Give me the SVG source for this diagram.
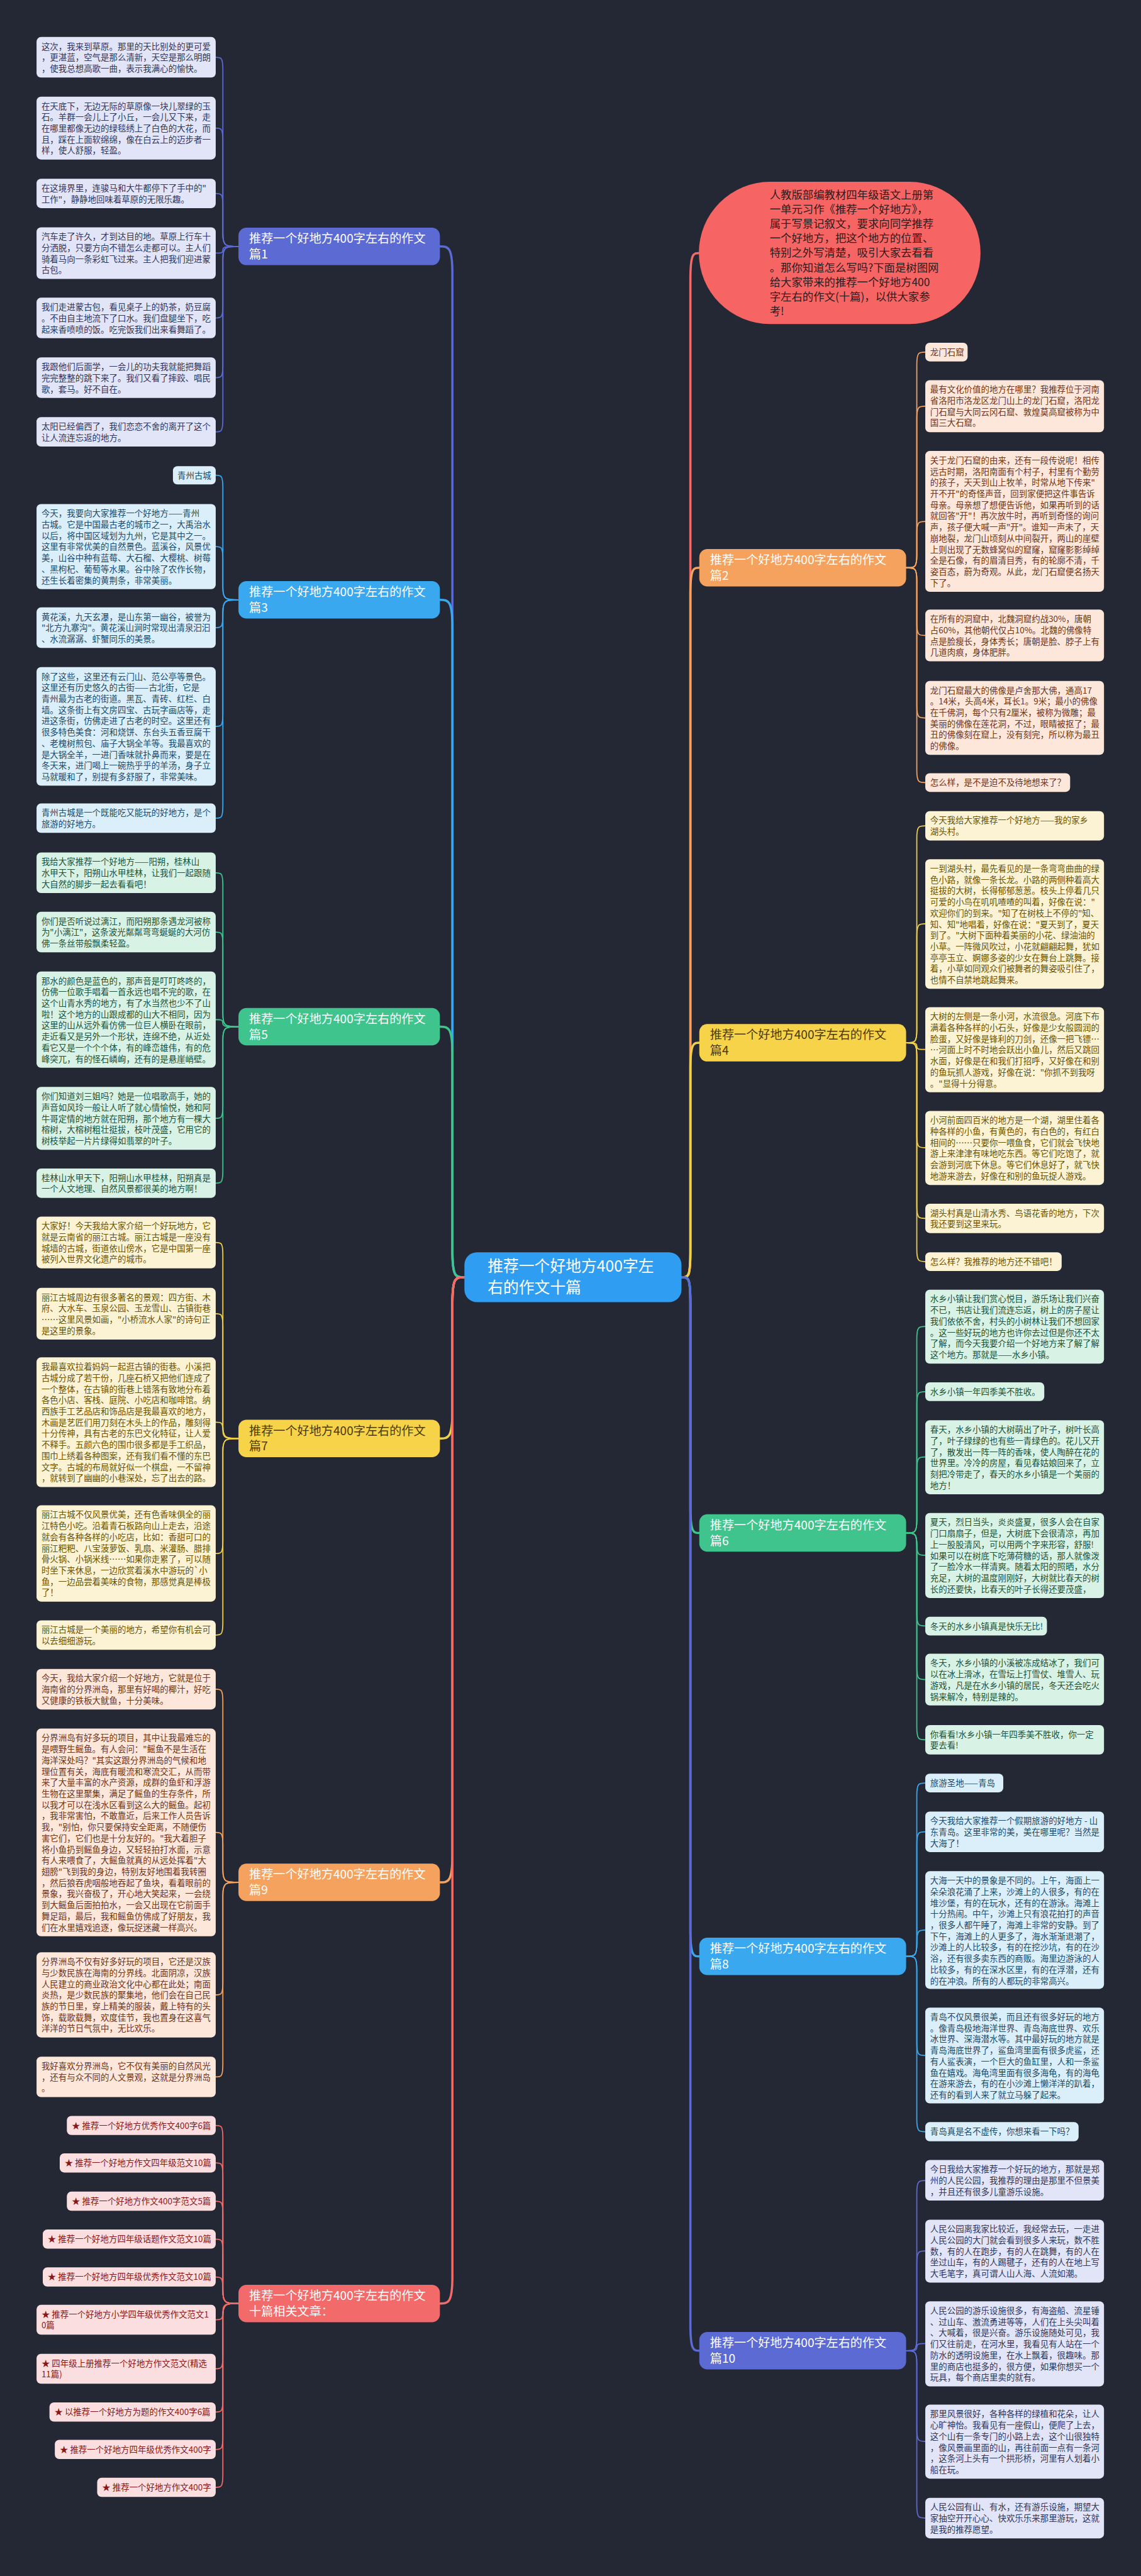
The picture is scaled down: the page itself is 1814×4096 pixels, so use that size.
<svg xmlns="http://www.w3.org/2000/svg" width="1814" height="4096" viewBox="0 0 1814 4096">
<style>
.lf text{font-family:"Noto Sans CJK SC","Noto Sans",sans-serif;font-size:19px}
.nd text{font-family:"Noto Sans CJK SC","Noto Sans",sans-serif;font-size:27px}
.ci rect{fill:#e2e5f7}.ci text{fill:#30365c}
.cs rect{fill:#dbeffb}.cs text{fill:#1c4a68}
.cg rect{fill:#d8f2e5}.cg text{fill:#1d5239}
.cy rect{fill:#fbf3d4}.cy text{fill:#6a5304}
.co rect{fill:#fce7da}.co text{fill:#6e3520}
.cr rect{fill:#fbdfe0}.cr text{fill:#8a1717}
.k{fill:none;stroke-width:2.5;stroke-linecap:round}
.m{fill:none;stroke-width:5;stroke-linecap:round}
.ki{stroke:#5c6bd4}.ks{stroke:#3aa8ef}.kg{stroke:#3ec48c}.ky{stroke:#f2cf48}.ko{stroke:#f5a25e}.kr{stroke:#f26a6a}
</style>
<rect x="0" y="0" width="1814" height="4096" fill="#242835"/>
<g transform="scale(0.70859)">

<g id="connectors">
<path class="m kr" d="M1529,2866 C1545,2866 1549,2866 1549,2806 L1549,628 C1549,568 1556,568 1568,568"/>
<path class="m ki" d="M1042,2866 C1022,2866 1015,2866 1015,2806 L1015,613 C1015,553 1005,553 987,553"/>
<path class="m ks" d="M1042,2866 C1022,2866 1015,2866 1015,2806 L1015,1406 C1015,1346 1005,1346 987,1346"/>
<path class="m kg" d="M1042,2866 C1022,2866 1015,2866 1015,2806 L1015,2364 C1015,2304 1005,2304 987,2304"/>
<path class="m ky" d="M1042,2866 C1022,2866 1015,2866 1015,2926 L1015,3168 C1015,3228 1005,3228 987,3228"/>
<path class="m ko" d="M1042,2866 C1022,2866 1015,2866 1015,2926 L1015,4164 C1015,4224 1005,4224 987,4224"/>
<path class="m kr" d="M1042,2866 C1022,2866 1015,2866 1015,2926 L1015,5109 C1015,5169 1005,5169 987,5169"/>
<path class="m ko" d="M1529,2866 C1545,2866 1549,2866 1549,2806 L1549,1334 C1549,1274 1556,1274 1569,1274"/>
<path class="m ky" d="M1529,2866 C1545,2866 1549,2866 1549,2806 L1549,2400 C1549,2340 1556,2340 1569,2340"/>
<path class="m kg" d="M1529,2866 C1545,2866 1549,2866 1549,2926 L1549,3380 C1549,3440 1556,3440 1569,3440"/>
<path class="m ks" d="M1529,2866 C1545,2866 1549,2866 1549,2926 L1549,4330 C1549,4390 1556,4390 1569,4390"/>
<path class="m ki" d="M1529,2866 C1545,2866 1549,2866 1549,2926 L1549,5215 C1549,5275 1556,5275 1569,5275"/>

<path class="k ki" d="M535,553 C507,553 500,553 500,525 L500,156.5 C500,128.5 496,128.5 484,128.5"/>
<path class="k ki" d="M535,553 C507,553 500,553 500,525 L500,315.5 C500,287.5 496,287.5 484,287.5"/>
<path class="k ki" d="M535,553 C507,553 500,553 500,525 L500,462 C500,434 496,434 484,434"/>
<path class="k ki" d="M535,553 C507,553 500,553 500,560.5 C500,568 496,568 484,568"/>
<path class="k ki" d="M535,553 C507,553 500,553 500,581 L500,685.5 C500,713.5 496,713.5 484,713.5"/>
<path class="k ki" d="M535,553 C507,553 500,553 500,581 L500,819.5 C500,847.5 496,847.5 484,847.5"/>
<path class="k ki" d="M535,553 C507,553 500,553 500,581 L500,941 C500,969 496,969 484,969"/>

<path class="k ks" d="M535,1346 C507,1346 500,1346 500,1318 L500,1094.5 C500,1066.5 496,1066.5 484,1066.5"/>
<path class="k ks" d="M535,1346 C507,1346 500,1346 500,1318 L500,1254.5 C500,1226.5 496,1226.5 484,1226.5"/>
<path class="k ks" d="M535,1346 C507,1346 500,1346 500,1374 L500,1380.5 C500,1408.5 496,1408.5 484,1408.5"/>
<path class="k ks" d="M535,1346 C507,1346 500,1346 500,1374 L500,1602 C500,1630 496,1630 484,1630"/>
<path class="k ks" d="M535,1346 C507,1346 500,1346 500,1374 L500,1808 C500,1836 496,1836 484,1836"/>

<path class="k kg" d="M535,2304 C507,2304 500,2304 500,2276 L500,1986.5 C500,1958.5 496,1958.5 484,1958.5"/>
<path class="k kg" d="M535,2304 C507,2304 500,2304 500,2276 L500,2119.5 C500,2091.5 496,2091.5 484,2091.5"/>
<path class="k kg" d="M535,2304 C507,2304 500,2304 500,2296 C500,2288 496,2288 484,2288"/>
<path class="k kg" d="M535,2304 C507,2304 500,2304 500,2332 L500,2481.5 C500,2509.5 496,2509.5 484,2509.5"/>
<path class="k kg" d="M535,2304 C507,2304 500,2304 500,2332 L500,2627 C500,2655 496,2655 484,2655"/>

<path class="k ky" d="M535,3228 C507,3228 500,3228 500,3200 L500,2816 C500,2788 496,2788 484,2788"/>
<path class="k ky" d="M535,3228 C507,3228 500,3228 500,3200 L500,2976 C500,2948 496,2948 484,2948"/>
<path class="k ky" d="M535,3228 C507,3228 500,3228 500,3210 C500,3191.5 496,3191.5 484,3191.5"/>
<path class="k ky" d="M535,3228 C507,3228 500,3228 500,3256 L500,3458 C500,3486 496,3486 484,3486"/>
<path class="k ky" d="M535,3228 C507,3228 500,3228 500,3256 L500,3641 C500,3669 496,3669 484,3669"/>

<path class="k ko" d="M535,4224 C507,4224 500,4224 500,4196 L500,3818.5 C500,3790.5 496,3790.5 484,3790.5"/>
<path class="k ko" d="M535,4224 C507,4224 500,4224 500,4196 L500,4140 C500,4112 496,4112 484,4112"/>
<path class="k ko" d="M535,4224 C507,4224 500,4224 500,4252 L500,4448.5 C500,4476.5 496,4476.5 484,4476.5"/>
<path class="k ko" d="M535,4224 C507,4224 500,4224 500,4252 L500,4632.5 C500,4660.5 496,4660.5 484,4660.5"/>

<path class="k kr" d="M535,5169 C507,5169 500,5169 500,5141 L500,4797.5 C500,4769.5 496,4769.5 484,4769.5"/>
<path class="k kr" d="M535,5169 C507,5169 500,5169 500,5141 L500,4881.5 C500,4853.5 496,4853.5 484,4853.5"/>
<path class="k kr" d="M535,5169 C507,5169 500,5169 500,5141 L500,4967.5 C500,4939.5 496,4939.5 484,4939.5"/>
<path class="k kr" d="M535,5169 C507,5169 500,5169 500,5141 L500,5052.5 C500,5024.5 496,5024.5 484,5024.5"/>
<path class="k kr" d="M535,5169 C507,5169 500,5169 500,5141 L500,5137.5 C500,5109.5 496,5109.5 484,5109.5"/>
<path class="k kr" d="M535,5169 C507,5169 500,5169 500,5187 C500,5205.5 496,5205.5 484,5205.5"/>
<path class="k kr" d="M535,5169 C507,5169 500,5169 500,5197 L500,5287.5 C500,5315.5 496,5315.5 484,5315.5"/>
<path class="k kr" d="M535,5169 C507,5169 500,5169 500,5197 L500,5384.5 C500,5412.5 496,5412.5 484,5412.5"/>
<path class="k kr" d="M535,5169 C507,5169 500,5169 500,5197 L500,5468.5 C500,5496.5 496,5496.5 484,5496.5"/>
<path class="k kr" d="M535,5169 C507,5169 500,5169 500,5197 L500,5553.5 C500,5581.5 496,5581.5 484,5581.5"/>

<path class="k ko" d="M2033,1274 C2052,1274 2057,1274 2057,1246 L2057,818 C2057,790 2062,790 2076,790"/>
<path class="k ko" d="M2033,1274 C2052,1274 2057,1274 2057,1246 L2057,939.5 C2057,911.5 2062,911.5 2076,911.5"/>
<path class="k ko" d="M2033,1274 C2052,1274 2057,1274 2057,1246 L2057,1198 C2057,1170 2062,1170 2076,1170"/>
<path class="k ko" d="M2033,1274 C2052,1274 2057,1274 2057,1302 L2057,1398 C2057,1426 2062,1426 2076,1426"/>
<path class="k ko" d="M2033,1274 C2052,1274 2057,1274 2057,1302 L2057,1583 C2057,1611 2062,1611 2076,1611"/>
<path class="k ko" d="M2033,1274 C2052,1274 2057,1274 2057,1302 L2057,1728 C2057,1756 2062,1756 2076,1756"/>

<path class="k ky" d="M2033,2340 C2052,2340 2057,2340 2057,2312 L2057,1881 C2057,1853 2062,1853 2076,1853"/>
<path class="k ky" d="M2033,2340 C2052,2340 2057,2340 2057,2312 L2057,2101 C2057,2073 2062,2073 2076,2073"/>
<path class="k ky" d="M2033,2340 C2052,2340 2057,2340 2057,2347.5 C2057,2355 2062,2355 2076,2355"/>
<path class="k ky" d="M2033,2340 C2052,2340 2057,2340 2057,2368 L2057,2547.5 C2057,2575.5 2062,2575.5 2076,2575.5"/>
<path class="k ky" d="M2033,2340 C2052,2340 2057,2340 2057,2368 L2057,2706 C2057,2734 2062,2734 2076,2734"/>
<path class="k ky" d="M2033,2340 C2052,2340 2057,2340 2057,2368 L2057,2803 C2057,2831 2062,2831 2076,2831"/>

<path class="k kg" d="M2033,3440 C2052,3440 2057,3440 2057,3412 L2057,3004.5 C2057,2976.5 2062,2976.5 2076,2976.5"/>
<path class="k kg" d="M2033,3440 C2052,3440 2057,3440 2057,3412 L2057,3151 C2057,3123 2062,3123 2076,3123"/>
<path class="k kg" d="M2033,3440 C2052,3440 2057,3440 2057,3412 L2057,3297.5 C2057,3269.5 2062,3269.5 2076,3269.5"/>
<path class="k kg" d="M2033,3440 C2052,3440 2057,3440 2057,3465 C2057,3490 2062,3490 2076,3490"/>
<path class="k kg" d="M2033,3440 C2052,3440 2057,3440 2057,3468 L2057,3620.5 C2057,3648.5 2062,3648.5 2076,3648.5"/>
<path class="k kg" d="M2033,3440 C2052,3440 2057,3440 2057,3468 L2057,3741 C2057,3769 2062,3769 2076,3769"/>
<path class="k kg" d="M2033,3440 C2052,3440 2057,3440 2057,3468 L2057,3876 C2057,3904 2062,3904 2076,3904"/>

<path class="k ks" d="M2033,4390 C2052,4390 2057,4390 2057,4362 L2057,4029 C2057,4001 2062,4001 2076,4001"/>
<path class="k ks" d="M2033,4390 C2052,4390 2057,4390 2057,4362 L2057,4138.5 C2057,4110.5 2062,4110.5 2076,4110.5"/>
<path class="k ks" d="M2033,4390 C2052,4390 2057,4390 2057,4362 L2057,4359 C2057,4331 2062,4331 2076,4331"/>
<path class="k ks" d="M2033,4390 C2052,4390 2057,4390 2057,4418 L2057,4584.5 C2057,4612.5 2062,4612.5 2076,4612.5"/>
<path class="k ks" d="M2033,4390 C2052,4390 2057,4390 2057,4418 L2057,4755.5 C2057,4783.5 2062,4783.5 2076,4783.5"/>

<path class="k ki" d="M2033,5275 C2052,5275 2057,5275 2057,5247 L2057,4921 C2057,4893 2062,4893 2076,4893"/>
<path class="k ki" d="M2033,5275 C2052,5275 2057,5275 2057,5247 L2057,5079 C2057,5051 2062,5051 2076,5051"/>
<path class="k ki" d="M2033,5275 C2052,5275 2057,5275 2057,5267 C2057,5259 2062,5259 2076,5259"/>
<path class="k ki" d="M2033,5275 C2052,5275 2057,5275 2057,5303 L2057,5450.5 C2057,5478.5 2062,5478.5 2076,5478.5"/>
<path class="k ki" d="M2033,5275 C2052,5275 2057,5275 2057,5303 L2057,5622.5 C2057,5650.5 2062,5650.5 2076,5650.5"/>
</g>

<g id="center">
<rect x="1042" y="2810" width="487" height="112" rx="28" fill="#2f9df2"/>
<text x="1094" y="2853" font-family="'Noto Sans CJK SC',sans-serif" font-size="35" fill="#ffffff"><tspan x="1094">推荐一个好地方400字左</tspan><tspan x="1094" dy="48">右的作文十篇</tspan></text>
</g>

<g id="intro">
<rect x="1568" y="408" width="632" height="319" rx="159.5" fill="#f76464"/>
<text font-family="'Noto Sans CJK SC',sans-serif" font-size="24.5" fill="#2e1c1c"><tspan x="1727" y="446">人教版部编教材四年级语文上册第</tspan><tspan x="1727" dy="32.6">一单元习作《推荐一个好地方》，</tspan><tspan x="1727" dy="32.6">属于写景记叙文，要求向同学推荐</tspan><tspan x="1727" dy="32.6">一个好地方，把这个地方的位置、</tspan><tspan x="1727" dy="32.6">特别之外写清楚，吸引大家去看看</tspan><tspan x="1727" dy="32.6">。那你知道怎么写吗?下面是树图网</tspan><tspan x="1727" dy="32.6">给大家带来的推荐一个好地方400</tspan><tspan x="1727" dy="32.6">字左右的作文(十篇)，以供大家参</tspan><tspan x="1727" dy="32.6">考!</tspan></text>
</g>

<g class="nd">
<g id="node-1"><rect x="535" y="511" width="452" height="84" rx="18" fill="#5c6bd4"/><text x="559" y="545" fill="#fff"><tspan x="559">推荐一个好地方400字左右的作文</tspan><tspan x="559" dy="35">篇1</tspan></text></g>
<g id="node-3"><rect x="535" y="1304" width="452" height="84" rx="18" fill="#3aa8ef"/><text x="559" y="1338" fill="#fff"><tspan x="559">推荐一个好地方400字左右的作文</tspan><tspan x="559" dy="35">篇3</tspan></text></g>
<g id="node-5"><rect x="535" y="2262" width="452" height="84" rx="18" fill="#3ec48c"/><text x="559" y="2296" fill="#fff"><tspan x="559">推荐一个好地方400字左右的作文</tspan><tspan x="559" dy="35">篇5</tspan></text></g>
<g id="node-7"><rect x="535" y="3186" width="452" height="84" rx="18" fill="#f7d34a"/><text x="559" y="3220" fill="#4a3a05"><tspan x="559">推荐一个好地方400字左右的作文</tspan><tspan x="559" dy="35">篇7</tspan></text></g>
<g id="node-9"><rect x="535" y="4182" width="452" height="84" rx="18" fill="#f5a25e"/><text x="559" y="4216" fill="#fff"><tspan x="559">推荐一个好地方400字左右的作文</tspan><tspan x="559" dy="35">篇9</tspan></text></g>
<g id="node-11"><rect x="535" y="5127" width="452" height="84" rx="18" fill="#f26a6a"/><text x="559" y="5161" fill="#fff"><tspan x="559">推荐一个好地方400字左右的作文</tspan><tspan x="559" dy="35">十篇相关文章：</tspan></text></g>
<g id="node-2"><rect x="1569" y="1232" width="464" height="84" rx="18" fill="#f5a25e"/><text x="1593" y="1266" fill="#fff"><tspan x="1593">推荐一个好地方400字左右的作文</tspan><tspan x="1593" dy="35">篇2</tspan></text></g>
<g id="node-4"><rect x="1569" y="2298" width="464" height="84" rx="18" fill="#f7d34a"/><text x="1593" y="2332" fill="#4a3a05"><tspan x="1593">推荐一个好地方400字左右的作文</tspan><tspan x="1593" dy="35">篇4</tspan></text></g>
<g id="node-6"><rect x="1569" y="3398" width="464" height="84" rx="18" fill="#3ec48c"/><text x="1593" y="3432" fill="#fff"><tspan x="1593">推荐一个好地方400字左右的作文</tspan><tspan x="1593" dy="35">篇6</tspan></text></g>
<g id="node-8"><rect x="1569" y="4348" width="464" height="84" rx="18" fill="#3aa8ef"/><text x="1593" y="4382" fill="#fff"><tspan x="1593">推荐一个好地方400字左右的作文</tspan><tspan x="1593" dy="35">篇8</tspan></text></g>
<g id="node-10"><rect x="1569" y="5233" width="464" height="84" rx="18" fill="#5c6bd4"/><text x="1593" y="5267" fill="#fff"><tspan x="1593">推荐一个好地方400字左右的作文</tspan><tspan x="1593" dy="35">篇10</tspan></text></g>
</g>

<g class="lf ci">
<g id="leaf-1-1"><rect x="82" y="83" width="402" height="91" rx="10"/><text y="111"><tspan x="93">这次，我来到草原。那里的天比别处的更可爱</tspan><tspan x="93" dy="25">，更湛蓝，空气是那么清新，天空是那么明朗</tspan><tspan x="93" dy="25">，使我总想高歌一曲，表示我满心的愉快。</tspan></text></g>
<g id="leaf-1-2"><rect x="82" y="217" width="402" height="141" rx="10"/><text y="245"><tspan x="93">在天底下，无边无际的草原像一块儿翠绿的玉</tspan><tspan x="93" dy="25">石。羊群一会儿上了小丘，一会儿又下来，走</tspan><tspan x="93" dy="25">在哪里都像无边的绿毯绣上了白色的大花，而</tspan><tspan x="93" dy="25">且，踩在上面软绵绵，像在白云上的迈步者一</tspan><tspan x="93" dy="25">样，使人舒服，轻盈。</tspan></text></g>
<g id="leaf-1-3"><rect x="82" y="401" width="402" height="66" rx="10"/><text y="429"><tspan x="93">在这境界里，连骏马和大牛都停下了手中的"</tspan><tspan x="93" dy="25">工作"，静静地回味着草原的无限乐趣。</tspan></text></g>
<g id="leaf-1-4"><rect x="82" y="510" width="402" height="116" rx="10"/><text y="538"><tspan x="93">汽车走了许久，才到达目的地。草原上行车十</tspan><tspan x="93" dy="25">分洒脱，只要方向不错怎么走都可以。主人们</tspan><tspan x="93" dy="25">骑着马向一条彩虹飞过来。主人把我们迎进蒙</tspan><tspan x="93" dy="25">古包。</tspan></text></g>
<g id="leaf-1-5"><rect x="82" y="668" width="402" height="91" rx="10"/><text y="696"><tspan x="93">我们走进蒙古包，看见桌子上的奶茶，奶豆腐</tspan><tspan x="93" dy="25">。不由自主地流下了口水。我们盘腿坐下，吃</tspan><tspan x="93" dy="25">起来香喷喷的饭。吃完饭我们出来看舞蹈了。</tspan></text></g>
<g id="leaf-1-6"><rect x="82" y="802" width="402" height="91" rx="10"/><text y="830"><tspan x="93">我跟他们后面学，一会儿的功夫我就能把舞蹈</tspan><tspan x="93" dy="25">完完整整的跳下来了。我们又看了摔跤、唱民</tspan><tspan x="93" dy="25">歌，套马。好不自在。</tspan></text></g>
<g id="leaf-1-7"><rect x="82" y="936" width="402" height="66" rx="10"/><text y="964"><tspan x="93">太阳已经偏西了，我们恋恋不舍的离开了这个</tspan><tspan x="93" dy="25">让人流连忘返的地方。</tspan></text></g>
</g>

<g class="lf cs">
<g id="leaf-3-1"><rect x="388" y="1046" width="96" height="41" rx="10"/><text y="1074"><tspan x="398">青州古城</tspan></text></g>
<g id="leaf-3-2"><rect x="82" y="1131" width="402" height="191" rx="10"/><text y="1159"><tspan x="93">今天，我要向大家推荐一个好地方——青州</tspan><tspan x="93" dy="25">古城。它是中国最古老的城市之一，大禹治水</tspan><tspan x="93" dy="25">以后，将中国区域划为九州，它是其中之一。</tspan><tspan x="93" dy="25">这里有非常优美的自然景色。蓝溪谷，风景优</tspan><tspan x="93" dy="25">美，山谷中种有蓝莓、大石榴、大樱桃、树莓</tspan><tspan x="93" dy="25">、黑枸杞、葡萄等水果。谷中除了农作长物，</tspan><tspan x="93" dy="25">还生长着密集的黄荆条，非常美丽。</tspan></text></g>
<g id="leaf-3-3"><rect x="82" y="1363" width="402" height="91" rx="10"/><text y="1391"><tspan x="93">黄花溪，九天玄瀑，是山东第一幽谷，被誉为</tspan><tspan x="93" dy="25">"北方九寨沟"。黄花溪山涧时常现出清泉汩汩</tspan><tspan x="93" dy="25">、水流潺潺、虾蟹同乐的美景。</tspan></text></g>
<g id="leaf-3-4"><rect x="82" y="1497" width="402" height="266" rx="10"/><text y="1525"><tspan x="93">除了这些，这里还有云门山、范公亭等景色。</tspan><tspan x="93" dy="25">这里还有历史悠久的古街——古北街，它是</tspan><tspan x="93" dy="25">青州最为古老的街道。黑瓦、青砖、红栏、白</tspan><tspan x="93" dy="25">墙。这条街上有文房四宝、古玩字画店等，走</tspan><tspan x="93" dy="25">进这条街，仿佛走进了古老的时空。这里还有</tspan><tspan x="93" dy="25">很多特色美食：河和烧饼、东台头五香豆腐干</tspan><tspan x="93" dy="25">、老槐树煎包、庙子大锅全羊等。我最喜欢的</tspan><tspan x="93" dy="25">是大锅全羊，一进门香味就扑鼻而来，要是在</tspan><tspan x="93" dy="25">冬天来，进门喝上一碗热乎乎的羊汤，身子立</tspan><tspan x="93" dy="25">马就暖和了，别提有多舒服了，非常美味。</tspan></text></g>
<g id="leaf-3-5"><rect x="82" y="1803" width="402" height="66" rx="10"/><text y="1831"><tspan x="93">青州古城是一个既能吃又能玩的好地方，是个</tspan><tspan x="93" dy="25">旅游的好地方。</tspan></text></g>
</g>

<g class="lf cg">
<g id="leaf-5-1"><rect x="82" y="1913" width="402" height="91" rx="10"/><text y="1941"><tspan x="93">我给大家推荐一个好地方——阳朔，桂林山</tspan><tspan x="93" dy="25">水甲天下，阳朔山水甲桂林，让我们一起跟随</tspan><tspan x="93" dy="25">大自然的脚步一起去看看吧！</tspan></text></g>
<g id="leaf-5-2"><rect x="82" y="2046" width="402" height="91" rx="10"/><text y="2074"><tspan x="93">你们是否听说过漓江，而阳朔那条遇龙河被称</tspan><tspan x="93" dy="25">为"小漓江"，这条波光粼粼弯弯蜒蜒的大河仿</tspan><tspan x="93" dy="25">佛一条丝带般飘柔轻盈。</tspan></text></g>
<g id="leaf-5-3"><rect x="82" y="2180" width="402" height="216" rx="10"/><text y="2208"><tspan x="93">那水的颜色是蓝色的，那声音是叮叮咚咚的，</tspan><tspan x="93" dy="25">仿佛一位歌手唱着一首永远也唱不完的歌，在</tspan><tspan x="93" dy="25">这个山青水秀的地方，有了水当然也少不了山</tspan><tspan x="93" dy="25">啦！这个地方的山跟成都的山大不相同，因为</tspan><tspan x="93" dy="25">这里的山从远外看仿佛一位巨人横卧在眼前，</tspan><tspan x="93" dy="25">走近看又是另外一个形状，连绵不绝，从近处</tspan><tspan x="93" dy="25">看它又是一个个个体，有的峰峦雄伟，有的危</tspan><tspan x="93" dy="25">峰突兀，有的怪石嶙峋，还有的是悬崖峭壁。</tspan></text></g>
<g id="leaf-5-4"><rect x="82" y="2439" width="402" height="141" rx="10"/><text y="2467"><tspan x="93">你们知道刘三姐吗？她是一位唱歌高手，她的</tspan><tspan x="93" dy="25">声音如风玲一般让人听了就心情愉悦，她和阿</tspan><tspan x="93" dy="25">牛哥定情的地方就在阳朔，那个地方有一棵大</tspan><tspan x="93" dy="25">榕树，大榕树粗壮挺拔，枝叶茂盛，它用它的</tspan><tspan x="93" dy="25">树枝举起一片片绿得如翡翠的叶子。</tspan></text></g>
<g id="leaf-5-5"><rect x="82" y="2622" width="402" height="66" rx="10"/><text y="2650"><tspan x="93">桂林山水甲天下，阳朔山水甲桂林，阳朔真是</tspan><tspan x="93" dy="25">一个人文地理、自然风景都很美的地方啊！</tspan></text></g>
</g>

<g class="lf cy">
<g id="leaf-7-1"><rect x="82" y="2730" width="402" height="116" rx="10"/><text y="2758"><tspan x="93">大家好！今天我给大家介绍一个好玩地方，它</tspan><tspan x="93" dy="25">就是云南省的丽江古城。丽江古城是一座没有</tspan><tspan x="93" dy="25">城墙的古城，街道依山傍水，它是中国第一座</tspan><tspan x="93" dy="25">被列入世界文化遗产的城市。</tspan></text></g>
<g id="leaf-7-2"><rect x="82" y="2890" width="402" height="116" rx="10"/><text y="2918"><tspan x="93">丽江古城周边有很多著名的景观：四方街、木</tspan><tspan x="93" dy="25">府、大水车、玉泉公园、玉龙雪山、古镇街巷</tspan><tspan x="93" dy="25">……这里风景如画，"小桥流水人家"的诗句正</tspan><tspan x="93" dy="25">是这里的景象。</tspan></text></g>
<g id="leaf-7-3"><rect x="82" y="3046" width="402" height="291" rx="10"/><text y="3074"><tspan x="93">我最喜欢拉着妈妈一起逛古镇的街巷。小溪把</tspan><tspan x="93" dy="25">古城分成了若干份，几座石桥又把他们连成了</tspan><tspan x="93" dy="25">一个整体，在古镇的街巷上错落有致地分布着</tspan><tspan x="93" dy="25">各色小店、客栈、庭院、小吃店和咖啡馆。纳</tspan><tspan x="93" dy="25">西族手工艺品店和饰品店是我最喜欢的地方，</tspan><tspan x="93" dy="25">木画是艺匠们用刀刻在木头上的作品，雕刻得</tspan><tspan x="93" dy="25">十分传神，具有古老的东巴文化特征，让人爱</tspan><tspan x="93" dy="25">不释手。五颜六色的围巾很多都是手工织品，</tspan><tspan x="93" dy="25">围巾上绣着各种图案，还有我们看不懂的东巴</tspan><tspan x="93" dy="25">文字。古城的布局就好似一个棋盘，一不留神</tspan><tspan x="93" dy="25">，就转到了幽幽的小巷深处，忘了出去的路。</tspan></text></g>
<g id="leaf-7-4"><rect x="82" y="3378" width="402" height="216" rx="10"/><text y="3406"><tspan x="93">丽江古城不仅风景优美，还有色香味俱全的丽</tspan><tspan x="93" dy="25">江特色小吃。沿着青石板路向山上走去，沿途</tspan><tspan x="93" dy="25">就会有各种各样的小吃店，比如：香甜可口的</tspan><tspan x="93" dy="25">丽江粑粑、八宝菠萝饭、乳扇、米灌肠、腊排</tspan><tspan x="93" dy="25">骨火锅、小锅米线……如果你走累了，可以随</tspan><tspan x="93" dy="25">时坐下来休息，一边欣赏着溪水中游玩的`小</tspan><tspan x="93" dy="25">鱼，一边品尝着美味的食物，那感觉真是棒极</tspan><tspan x="93" dy="25">了！</tspan></text></g>
<g id="leaf-7-5"><rect x="82" y="3636" width="402" height="66" rx="10"/><text y="3664"><tspan x="93">丽江古城是一个美丽的地方，希望你有机会可</tspan><tspan x="93" dy="25">以去细细游玩。</tspan></text></g>
</g>

<g class="lf co">
<g id="leaf-9-1"><rect x="82" y="3745" width="402" height="91" rx="10"/><text y="3773"><tspan x="93">今天，我给大家介绍一个好地方，它就是位于</tspan><tspan x="93" dy="25">海南省的分界洲岛，那里有好喝的椰汁，好吃</tspan><tspan x="93" dy="25">又健康的铁板大鱿鱼，十分美味。</tspan></text></g>
<g id="leaf-9-2"><rect x="82" y="3879" width="402" height="466" rx="10"/><text y="3907"><tspan x="93">分界洲岛有好多玩的项目，其中让我最难忘的</tspan><tspan x="93" dy="25">是喂野生鳐鱼。有人会问："鳐鱼不是生活在</tspan><tspan x="93" dy="25">海洋深处吗？"其实这跟分界洲岛的气候和地</tspan><tspan x="93" dy="25">理位置有关，海底有暖流和寒流交汇，从而带</tspan><tspan x="93" dy="25">来了大量丰富的水产资源，成群的鱼虾和浮游</tspan><tspan x="93" dy="25">生物在这里聚集，满足了鳐鱼的生存条件，所</tspan><tspan x="93" dy="25">以我才可以在浅水区看到这么大的鳐鱼。起初</tspan><tspan x="93" dy="25">，我非常害怕，不敢靠近，后来工作人员告诉</tspan><tspan x="93" dy="25">我，"别怕，你只要保持安全距离，不随便伤</tspan><tspan x="93" dy="25">害它们，它们也是十分友好的。"我大着胆子</tspan><tspan x="93" dy="25">将小鱼扔到鳐鱼身边，又轻轻拍打水面，示意</tspan><tspan x="93" dy="25">有人来喂食了，大鳐鱼就真的从远处挥着"大</tspan><tspan x="93" dy="25">翅膀"飞到我的身边，特别友好地围着我转圈</tspan><tspan x="93" dy="25">，然后狼吞虎咽般地吞起了鱼块，看着眼前的</tspan><tspan x="93" dy="25">景象，我兴奋极了，开心地大笑起来，一会绕</tspan><tspan x="93" dy="25">到大鳐鱼后面拍拍水，一会又出现在它前面手</tspan><tspan x="93" dy="25">舞足蹈，最后，我和鳐鱼仿佛成了好朋友，我</tspan><tspan x="93" dy="25">们在水里嬉戏追逐，像玩捉迷藏一样高兴。</tspan></text></g>
<g id="leaf-9-3"><rect x="82" y="4381" width="402" height="191" rx="10"/><text y="4409"><tspan x="93">分界洲岛不仅有好多好玩的项目，它还是汉族</tspan><tspan x="93" dy="25">与少数民族在海南的分界线。北面阴凉，汉族</tspan><tspan x="93" dy="25">人民建立的商业政治文化中心都在此处；南面</tspan><tspan x="93" dy="25">炎热，是少数民族的聚集地，他们会在自己民</tspan><tspan x="93" dy="25">族的节日里，穿上精美的服装，戴上特有的头</tspan><tspan x="93" dy="25">饰，载歌载舞，欢度佳节，我也置身在这喜气</tspan><tspan x="93" dy="25">洋洋的节日气氛中，无比欢乐。</tspan></text></g>
<g id="leaf-9-4"><rect x="82" y="4615" width="402" height="91" rx="10"/><text y="4643"><tspan x="93">我好喜欢分界洲岛，它不仅有美丽的自然风光</tspan><tspan x="93" dy="25">，还有与众不同的人文景观，这就是分界洲岛</tspan><tspan x="93" dy="25">。</tspan></text></g>
</g>

<g class="lf cr">
<g id="leaf-11-1"><rect x="150" y="4748" width="334" height="43" rx="10"/><text y="4776.5"><tspan x="161">★ 推荐一个好地方优秀作文400字6篇</tspan></text></g>
<g id="leaf-11-2"><rect x="134" y="4832" width="350" height="43" rx="10"/><text y="4860.5"><tspan x="145">★ 推荐一个好地方作文四年级范文10篇</tspan></text></g>
<g id="leaf-11-3"><rect x="150" y="4918" width="334" height="43" rx="10"/><text y="4946.5"><tspan x="161">★ 推荐一个好地方作文400字范文5篇</tspan></text></g>
<g id="leaf-11-4"><rect x="96" y="5003" width="388" height="43" rx="10"/><text y="5031.5"><tspan x="107">★ 推荐一个好地方四年级话题作文范文10篇</tspan></text></g>
<g id="leaf-11-5"><rect x="96" y="5088" width="388" height="43" rx="10"/><text y="5116.5"><tspan x="107">★ 推荐一个好地方四年级优秀作文范文10篇</tspan></text></g>
<g id="leaf-11-6"><rect x="82" y="5172" width="402" height="67" rx="10"/><text y="5200"><tspan x="93">★ 推荐一个好地方小学四年级优秀作文范文1</tspan><tspan x="93" dy="25">0篇</tspan></text></g>
<g id="leaf-11-7"><rect x="82" y="5282" width="402" height="67" rx="10"/><text y="5310"><tspan x="93">★ 四年级上册推荐一个好地方作文范文(精选</tspan><tspan x="93" dy="25">11篇)</tspan></text></g>
<g id="leaf-11-8"><rect x="111" y="5391" width="373" height="43" rx="10"/><text y="5419.5"><tspan x="122">★ 以推荐一个好地方为题的作文400字6篇</tspan></text></g>
<g id="leaf-11-9"><rect x="123" y="5475" width="361" height="43" rx="10"/><text y="5503.5"><tspan x="134">★ 推荐一个好地方四年级优秀作文400字</tspan></text></g>
<g id="leaf-11-10"><rect x="218" y="5560" width="266" height="43" rx="10"/><text y="5588.5"><tspan x="229">★ 推荐一个好地方作文400字</tspan></text></g>
</g>

<g class="lf co">
<g id="leaf-2-1"><rect x="2076" y="769" width="95" height="42" rx="10"/><text y="797"><tspan x="2087">龙门石窟</tspan></text></g>
<g id="leaf-2-2"><rect x="2076" y="853" width="401" height="117" rx="10"/><text y="881"><tspan x="2087">最有文化价值的地方在哪里？我推荐位于河南</tspan><tspan x="2087" dy="25">省洛阳市洛龙区龙门山上的龙门石窟，洛阳龙</tspan><tspan x="2087" dy="25">门石窟与大同云冈石窟、敦煌莫高窟被称为中</tspan><tspan x="2087" dy="25">国三大石窟。</tspan></text></g>
<g id="leaf-2-3"><rect x="2076" y="1012" width="401" height="316" rx="10"/><text y="1040"><tspan x="2087">关于龙门石窟的由来，还有一段传说呢！相传</tspan><tspan x="2087" dy="25">远古时期，洛阳南面有个村子，村里有个勤劳</tspan><tspan x="2087" dy="25">的孩子，天天到山上牧羊，时常从地下传来"</tspan><tspan x="2087" dy="25">开不开"的奇怪声音，回到家便把这件事告诉</tspan><tspan x="2087" dy="25">母亲。母亲想了想便告诉他，如果再听到的话</tspan><tspan x="2087" dy="25">就回答"开"！再次放牛时，再听到奇怪的询问</tspan><tspan x="2087" dy="25">声，孩子便大喊一声"开"。谁知一声未了，天</tspan><tspan x="2087" dy="25">崩地裂，龙门山顷刻从中间裂开，两山的崖壁</tspan><tspan x="2087" dy="25">上则出现了无数蜂窝似的窟窿，窟窿影影绰绰</tspan><tspan x="2087" dy="25">全是石像，有的眉清目秀，有的轮廓不清，千</tspan><tspan x="2087" dy="25">姿百态，蔚为奇观。从此，龙门石窟便名扬天</tspan><tspan x="2087" dy="25">下了。</tspan></text></g>
<g id="leaf-2-4"><rect x="2076" y="1368" width="401" height="116" rx="10"/><text y="1396"><tspan x="2087">在所有的洞窟中，北魏洞窟约战30%，唐朝</tspan><tspan x="2087" dy="25">占60%，其他朝代仅占10%。北魏的佛像特</tspan><tspan x="2087" dy="25">点是脸瘦长，身体秀长；唐朝是脸、脖子上有</tspan><tspan x="2087" dy="25">几道肉痕，身体肥胖。</tspan></text></g>
<g id="leaf-2-5"><rect x="2076" y="1528" width="401" height="166" rx="10"/><text y="1556"><tspan x="2087">龙门石窟最大的佛像是卢舍那大佛，通高17</tspan><tspan x="2087" dy="25">。14米，头高4米，耳长1。9米；最小的佛像</tspan><tspan x="2087" dy="25">在千佛洞，每个只有2厘米，被称为微雕；最</tspan><tspan x="2087" dy="25">美丽的佛像在莲花洞，不过，眼睛被抠了；最</tspan><tspan x="2087" dy="25">丑的佛像刻在窟上，没有刻完，所以称为最丑</tspan><tspan x="2087" dy="25">的佛像。</tspan></text></g>
<g id="leaf-2-6"><rect x="2076" y="1735" width="325" height="42" rx="10"/><text y="1763"><tspan x="2087">怎么样，是不是迫不及待地想来了？</tspan></text></g>
</g>

<g class="lf cy">
<g id="leaf-4-1"><rect x="2076" y="1820" width="401" height="66" rx="10"/><text y="1848"><tspan x="2087">今天我给大家推荐一个好地方——我的家乡</tspan><tspan x="2087" dy="25">湖头村。</tspan></text></g>
<g id="leaf-4-2"><rect x="2076" y="1928" width="401" height="291" rx="10"/><text y="1956"><tspan x="2087">一到湖头村，最先看见的是一条弯弯曲曲的绿</tspan><tspan x="2087" dy="25">色小路，就像一条长龙。小路的两侧种着高大</tspan><tspan x="2087" dy="25">挺拔的大树，长得郁郁葱葱。枝头上停着几只</tspan><tspan x="2087" dy="25">可爱的小鸟在叽叽喳喳的叫着，好像在说："</tspan><tspan x="2087" dy="25">欢迎你们的到来。"知了在树枝上不停的"知、</tspan><tspan x="2087" dy="25">知、知"地唱着，好像在说："夏天到了，夏天</tspan><tspan x="2087" dy="25">到了。"大树下面种着美丽的小花、绿油油的</tspan><tspan x="2087" dy="25">小草。一阵微风吹过，小花就翩翩起舞，犹如</tspan><tspan x="2087" dy="25">亭亭玉立、婀娜多姿的少女在舞台上跳舞。接</tspan><tspan x="2087" dy="25">着，小草如同观众们被舞者的舞姿吸引住了，</tspan><tspan x="2087" dy="25">也情不自禁地跳起舞来。</tspan></text></g>
<g id="leaf-4-3"><rect x="2076" y="2260" width="401" height="191" rx="10"/><text y="2288"><tspan x="2087">大树的左侧是一条小河，水流很急。河底下布</tspan><tspan x="2087" dy="25">满着各种各样的小石头，好像是少女般圆润的</tspan><tspan x="2087" dy="25">脸蛋，又好像是锋利的刀剑，还像一把飞镖…</tspan><tspan x="2087" dy="25">…河面上时不时地会跃出小鱼儿，然后又跳回</tspan><tspan x="2087" dy="25">水面，好像是在和我们打招呼，又好像在和别</tspan><tspan x="2087" dy="25">的鱼玩抓人游戏，好像在说："你抓不到我呀</tspan><tspan x="2087" dy="25">。"显得十分得意。</tspan></text></g>
<g id="leaf-4-4"><rect x="2076" y="2493" width="401" height="166" rx="10"/><text y="2521"><tspan x="2087">小河前面四百米的地方是一个湖，湖里住着各</tspan><tspan x="2087" dy="25">种各样的小鱼，有黄色的，有白色的，有红白</tspan><tspan x="2087" dy="25">相间的……只要你一喂鱼食，它们就会飞快地</tspan><tspan x="2087" dy="25">游上来津津有味地吃东西。等它们吃饱了，就</tspan><tspan x="2087" dy="25">会游到河底下休息。等它们休息好了，就飞快</tspan><tspan x="2087" dy="25">地游来游去，好像在和别的鱼玩捉人游戏。</tspan></text></g>
<g id="leaf-4-5"><rect x="2076" y="2701" width="401" height="66" rx="10"/><text y="2729"><tspan x="2087">湖头村真是山清水秀、鸟语花香的地方，下次</tspan><tspan x="2087" dy="25">我还要到这里来玩。</tspan></text></g>
<g id="leaf-4-6"><rect x="2076" y="2810" width="306" height="42" rx="10"/><text y="2838"><tspan x="2087">怎么样？我推荐的地方还不错吧！</tspan></text></g>
</g>

<g class="lf cg">
<g id="leaf-6-1"><rect x="2076" y="2894" width="401" height="166" rx="10"/><text y="2922"><tspan x="2087">水乡小镇让我们赏心悦目，游乐场让我们兴奋</tspan><tspan x="2087" dy="25">不已，书店让我们流连忘返，树上的房子屋让</tspan><tspan x="2087" dy="25">我们依依不舍，村头的小树林让我们不想回家</tspan><tspan x="2087" dy="25">。这一些好玩的地方也许你去过但是你还不太</tspan><tspan x="2087" dy="25">了解，而今天我要介绍一个好地方来了解了解</tspan><tspan x="2087" dy="25">这个地方。那就是——水乡小镇。</tspan></text></g>
<g id="leaf-6-2"><rect x="2076" y="3102" width="267" height="42" rx="10"/><text y="3130"><tspan x="2087">水乡小镇一年四季美不胜收。</tspan></text></g>
<g id="leaf-6-3"><rect x="2076" y="3187" width="401" height="166" rx="10"/><text y="3215"><tspan x="2087">春天，水乡小镇的大树萌出了叶子，树叶长高</tspan><tspan x="2087" dy="25">了，叶子绿绿的也有些一青绿色的。花儿又开</tspan><tspan x="2087" dy="25">了，散发出一阵一阵的香味，使人陶醉在花的</tspan><tspan x="2087" dy="25">世界里。冷冷的房屋，看见春姑娘回来了，立</tspan><tspan x="2087" dy="25">刻把冷带走了，春天的水乡小镇是一个美丽的</tspan><tspan x="2087" dy="25">地方！</tspan></text></g>
<g id="leaf-6-4"><rect x="2076" y="3395" width="401" height="191" rx="10"/><text y="3423"><tspan x="2087">夏天，烈日当头，炎炎盛夏，很多人会在自家</tspan><tspan x="2087" dy="25">门口扇扇子，但是，大树底下会很清凉，再加</tspan><tspan x="2087" dy="25">上一股股清风，可以用两个字来形容，舒服!</tspan><tspan x="2087" dy="25">如果可以在树底下吃薄荷糖的话，那人就像泼</tspan><tspan x="2087" dy="25">了一脸冷水一样清爽。随着太阳的照晒，水分</tspan><tspan x="2087" dy="25">充足，大树的温度刚刚好，大树就比春天的树</tspan><tspan x="2087" dy="25">长的还要快，比春天的叶子长得还要茂盛，</tspan></text></g>
<g id="leaf-6-5"><rect x="2076" y="3628" width="273" height="42" rx="10"/><text y="3656"><tspan x="2087">冬天的水乡小镇真是快乐无比!</tspan></text></g>
<g id="leaf-6-6"><rect x="2076" y="3711" width="401" height="116" rx="10"/><text y="3739"><tspan x="2087">冬天，水乡小镇的小溪被冻成结冰了，我们可</tspan><tspan x="2087" dy="25">以在冰上滑冰，在雪坛上打雪仗、堆雪人、玩</tspan><tspan x="2087" dy="25">游戏，凡是在水乡小镇的居民，冬天还会吃火</tspan><tspan x="2087" dy="25">锅来解冷，特别是辣的。</tspan></text></g>
<g id="leaf-6-7"><rect x="2076" y="3871" width="401" height="66" rx="10"/><text y="3899"><tspan x="2087">你看看!水乡小镇一年四季美不胜收，你一定</tspan><tspan x="2087" dy="25">要去看!</tspan></text></g>
</g>

<g class="lf cs">
<g id="leaf-8-1"><rect x="2076" y="3980" width="175" height="42" rx="10"/><text y="4008"><tspan x="2087">旅游圣地——青岛</tspan></text></g>
<g id="leaf-8-2"><rect x="2076" y="4065" width="401" height="91" rx="10"/><text y="4093"><tspan x="2087">今天我给大家推荐一个假期旅游的好地方 - 山</tspan><tspan x="2087" dy="25">东青岛。这里非常的美，美在哪里呢？当然是</tspan><tspan x="2087" dy="25">大海了！</tspan></text></g>
<g id="leaf-8-3"><rect x="2076" y="4199" width="401" height="264" rx="10"/><text y="4227"><tspan x="2087">大海一天中的景象是不同的。上午，海面上一</tspan><tspan x="2087" dy="25">朵朵浪花涌了上来，沙滩上的人很多，有的在</tspan><tspan x="2087" dy="25">堆沙堡，有的在玩水，还有的在游泳。海滩上</tspan><tspan x="2087" dy="25">十分热闹。中午，沙滩上只有浪花拍打的声音</tspan><tspan x="2087" dy="25">，很多人都午睡了，海滩上非常的安静。到了</tspan><tspan x="2087" dy="25">下午，海滩上的人更多了，海水渐渐退潮了，</tspan><tspan x="2087" dy="25">沙滩上的人比较多，有的在挖沙坑，有的在沙</tspan><tspan x="2087" dy="25">浴，还有很多卖东西的商贩。海里边游泳的人</tspan><tspan x="2087" dy="25">比较多，有的在深水区里，有的在浮潜，还有</tspan><tspan x="2087" dy="25">的在冲浪。所有的人都玩的非常高兴。</tspan></text></g>
<g id="leaf-8-4"><rect x="2076" y="4505" width="401" height="215" rx="10"/><text y="4533"><tspan x="2087">青岛不仅风景很美，而且还有很多好玩的地方</tspan><tspan x="2087" dy="25">。像青岛极地海洋世界、青岛海底世界、欢乐</tspan><tspan x="2087" dy="25">冰世界、深海潜水等。其中最好玩的地方就是</tspan><tspan x="2087" dy="25">青岛海底世界了，鲨鱼湾里面有很多虎鲨，还</tspan><tspan x="2087" dy="25">有人鲨表演，一个巨大的鱼缸里，人和一条鲨</tspan><tspan x="2087" dy="25">鱼在嬉戏。海龟湾里面有很多海龟，有的海龟</tspan><tspan x="2087" dy="25">在游来游去，有的在小沙滩上懒洋洋的趴着，</tspan><tspan x="2087" dy="25">还有的看到人来了就立马躲了起来。</tspan></text></g>
<g id="leaf-8-5"><rect x="2076" y="4762" width="344" height="43" rx="10"/><text y="4790"><tspan x="2087">青岛真是名不虚传，你想来看一下吗？</tspan></text></g>
</g>

<g class="lf ci">
<g id="leaf-10-1"><rect x="2076" y="4847" width="401" height="91" rx="10"/><text y="4875"><tspan x="2087">今日我给大家推荐一个好玩的地方，那就是郑</tspan><tspan x="2087" dy="25">州的人民公园，我推荐的理由是那里不但景美</tspan><tspan x="2087" dy="25">，并且还有很多儿童游乐设施。</tspan></text></g>
<g id="leaf-10-2"><rect x="2076" y="4981" width="401" height="141" rx="10"/><text y="5009"><tspan x="2087">人民公园离我家比较近，我经常去玩，一走进</tspan><tspan x="2087" dy="25">人民公园的大门就会看到很多人来玩，数不胜</tspan><tspan x="2087" dy="25">数，有的人在跑步，有的人在跳舞，有的人在</tspan><tspan x="2087" dy="25">坐过山车，有的人踢毽子，还有的人在地上写</tspan><tspan x="2087" dy="25">大毛笔字，真可谓人山人海、人流如潮。</tspan></text></g>
<g id="leaf-10-3"><rect x="2076" y="5164" width="401" height="191" rx="10"/><text y="5192"><tspan x="2087">人民公园的游乐设施很多，有海盗船、流星锤</tspan><tspan x="2087" dy="25">、过山车、激流勇进等等，人们在上头尖叫着</tspan><tspan x="2087" dy="25">、大喊着，很是兴奋。游乐设施随处可见，我</tspan><tspan x="2087" dy="25">们又往前走，在河水里，我看见有人站在一个</tspan><tspan x="2087" dy="25">防水的透明设施里，在水上飘着，很趣味。那</tspan><tspan x="2087" dy="25">里的商店也挺多的，很方便，如果你想买一个</tspan><tspan x="2087" dy="25">玩具，每个商店里卖的就有。</tspan></text></g>
<g id="leaf-10-4"><rect x="2076" y="5396" width="401" height="166" rx="10"/><text y="5424"><tspan x="2087">那里风景很好，各种各样的绿植和花朵，让人</tspan><tspan x="2087" dy="25">心旷神怡。我看见有一座假山，便爬了上去，</tspan><tspan x="2087" dy="25">这个山有一条专门的小路上去，这个山很独特</tspan><tspan x="2087" dy="25">，像风景画里面的山，再往前面一点有一条河</tspan><tspan x="2087" dy="25">，这条河上头有一个拱形桥，河里有人划着小</tspan><tspan x="2087" dy="25">船在玩。</tspan></text></g>
<g id="leaf-10-5"><rect x="2076" y="5605" width="401" height="91" rx="10"/><text y="5633"><tspan x="2087">人民公园有山、有水，还有游乐设施，期望大</tspan><tspan x="2087" dy="25">家抽空开开心心、快欢乐乐来那里游玩，这就</tspan><tspan x="2087" dy="25">是我的推荐愿望。</tspan></text></g>
</g>

</g>
</svg>
